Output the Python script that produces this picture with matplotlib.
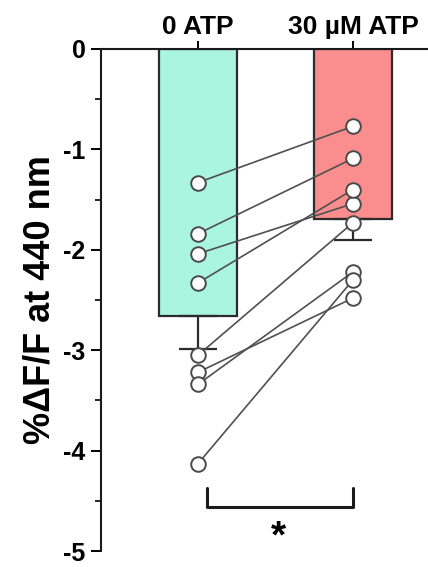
import numpy as np
import matplotlib.pyplot as plt
from matplotlib.ticker import MultipleLocator

plt.rcParams['font.family'] = ['Liberation Sans', 'DejaVu Sans']
plt.rcParams['font.weight'] = 'bold'

# paired measurements, one cell per row
conditions = ['0 ATP', '30 µM ATP']
atp_0 = [-1.33, -1.84, -2.04, -2.33, -3.05, -3.22, -3.34, -4.13]
atp_30 = [-0.77, -1.09, -1.54, -1.40, -1.73, -2.48, -2.22, -2.30]
bar_colors = ['#A9F5E0', '#FA8E8E']
yticks = [0, -1, -2, -3, -4, -5]

groups = [np.array(atp_0), np.array(atp_30)]
means = [g.mean() for g in groups]
sems = [g.std(ddof=1) / np.sqrt(len(g)) for g in groups]
xpos = np.arange(len(conditions))

fig = plt.figure(figsize=(4.28, 5.67), dpi=100)
ax = fig.add_axes([0.236, 0.0282, 0.764, 0.8854])

ax.bar(xpos, means, width=0.5, color=bar_colors, edgecolor='#2b2b2b',
       linewidth=1.6, zorder=1)
for x, m, s in zip(xpos, means, sems):
    ax.errorbar(x, m, yerr=[[s], [0]], fmt='none', ecolor='#2b2b2b',
                elinewidth=1.6, capsize=13.5, capthick=1.6, zorder=2)

# lines joining each cell's two values
for a, b in zip(atp_0, atp_30):
    ax.plot(xpos, [a, b], color='#505050', lw=1.2, zorder=3)
for x, g in zip(xpos, groups):
    ax.plot(np.full(len(g), x), g, 'o', ms=10.5, mfc='white',
            mec='#4a4a4a', mew=1.4, zorder=4, clip_on=False)

# significance bracket
ax.plot([0.06, 0.06, 1.0, 1.0], [-4.37, -4.56, -4.56, -4.37],
        color='#1a1a1a', lw=2.2, solid_capstyle='round', zorder=5)
ax.text(0.52, -4.87, '*', ha='center', va='center', fontsize=28,
        fontweight='bold')

ax.set_xlim(-0.626, 1.484)
ax.set_ylim(-5, 0)
ax.set_yticks(yticks)
ax.set_yticklabels([str(t) for t in yticks])
ax.yaxis.set_minor_locator(MultipleLocator(0.5))
ax.set_xticks(xpos)
ax.set_xticklabels(conditions, fontsize=19, fontweight='bold')
ax.xaxis.tick_top()
ax.tick_params(axis='x', direction='out', length=6, width=1.4, pad=1)
ax.tick_params(axis='y', which='major', direction='out', length=7,
               width=1.4, labelsize=18, pad=4)
ax.tick_params(axis='y', which='minor', direction='out', length=4,
               width=1.2)

for side in ['right', 'bottom']:
    ax.spines[side].set_visible(False)
for side in ['left', 'top']:
    ax.spines[side].set_linewidth(1.5)
    ax.spines[side].set_color('#1a1a1a')

ax.set_ylabel('%ΔF/F at 440 nm', fontsize=26, fontweight='bold', labelpad=4)

fig.savefig('out.png', dpi=100)
